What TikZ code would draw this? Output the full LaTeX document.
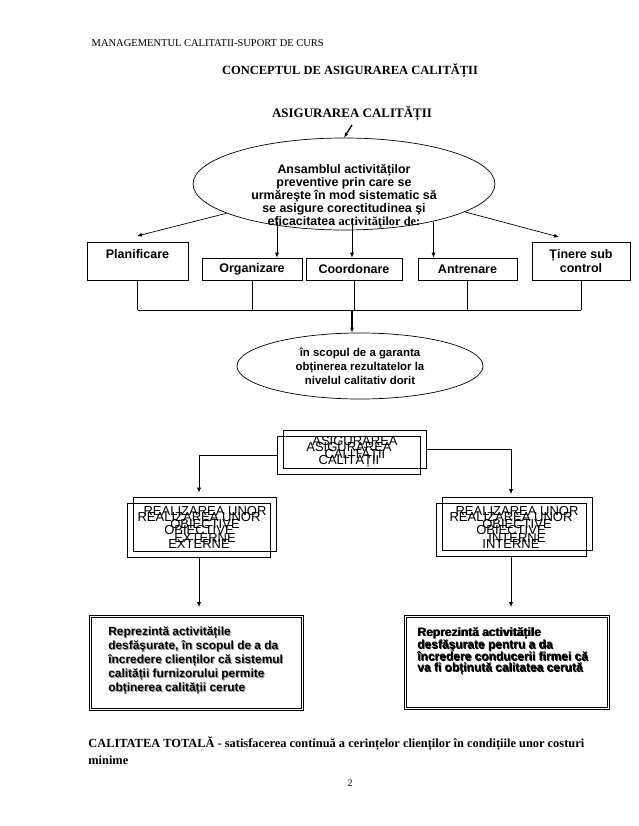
\documentclass[tikz,border=0pt]{standalone}
\usepackage{fontspec}
\setmainfont{Liberation Serif}
\setsansfont{Liberation Sans}
\usetikzlibrary{shapes.geometric,arrows.meta,calc}

\tikzset{
  arr/.style={-{Latex[length=5pt,width=4pt]}},
  sbox/.style={draw, inner sep=0pt, align=center, font=\sffamily\bfseries\fontsize{12.5}{14}\selectfont},
  twin/.style={draw, inner sep=0pt, align=center, font=\sffamily\fontsize{13}{13.5}\selectfont},
  shbox/.style={draw, double, double distance=1.3pt, inner sep=0pt},
  shtext/.style={inner sep=0pt, align=left, font=\sffamily\bfseries\fontsize{11.9}{14}\selectfont},
}

\begin{document}
\begin{tikzpicture}[x=1pt, y=-1pt, line width=0.7pt]
\useasboundingbox (0,0) rectangle (638,826);

% Page header
\node[anchor=west, font=\fontsize{10.5}{12}\selectfont] (head) at (88,43) {MANAGEMENTUL CALITATII-SUPORT DE CURS};
\node[font=\bfseries\fontsize{12.5}{14}\selectfont] (title) at (350,71) {CONCEPTUL DE ASIGURAREA CALITĂȚII};
\node[font=\bfseries\fontsize{13}{14}\selectfont] (aq) at (352,114) {ASIGURAREA CALITĂȚII};

% Ellipse
\node[draw, ellipse, minimum width=302pt, minimum height=92pt, inner sep=0pt] (ell) at (344,184) {};
\node[align=center, inner sep=0pt, font=\sffamily\bfseries\fontsize{12.4}{13}\selectfont] (elltext) at (344,196) {Ansamblul activităților\\ preventive prin care se\\ urmăreşte în mod sistematic să\\ se asigure corectitudinea şi\\ eficacitatea \rmfamily activităţilor de:};
\draw[arr, line width=1.3pt] (aq.south) -- (ell.north);

% Activities
\node[sbox, minimum width=101pt, minimum height=38pt] (plan) at (137.5,261) {Planificare\\ \mbox{}};
\node[sbox, minimum width=100pt, minimum height=22pt] (org) at (252,269) {Organizare};
\node[sbox, minimum width=96pt, minimum height=22pt] (coord) at (354,269) {Coordonare};
\node[sbox, minimum width=99pt, minimum height=22pt] (antr) at (467.5,269) {Antrenare};
\node[sbox, minimum width=98pt, minimum height=38pt] (tin) at (581,261) {Ținere sub\\ control};

% Arrows from the ellipse
\coordinate (plantip) at (137,236);
\coordinate (tintip) at (559,237);
\draw[arr] (ell.194) -- (plantip);
\draw[arr] (ell.347) -- (tintip);
\draw[arr] ($(org.north)+(25,-36)$) -- ($(org.north)+(25,0)$);
\draw[arr] ($(coord.north)+(-2,-38)$) -- ($(coord.north)+(-2,0)$);
\draw[arr] ($(antr.north)+(-34,-36)$) -- ($(antr.north)+(-34,0)$);

% Goal
\node[draw, ellipse, minimum width=246pt, minimum height=66pt, inner sep=0pt, align=center, font=\sffamily\bfseries\fontsize{11.4}{13.8}\selectfont] (goal) at (360,366) {în scopul de a garanta\\ obținerea rezultatelor la\\ nivelul calitativ dorit};

% Bus
\coordinate (bus) at (352,310);
\foreach \n in {plan,org,coord,antr,tin}
  \draw (\n.south) -- (\n.south |- bus);
\draw (plan.south |- bus) -- (tin.south |- bus);
\draw[arr, line width=1.3pt] (bus) -- (bus |- goal.north);

% Second chart
\node[twin, minimum width=143pt, minimum height=38pt] (asigA) at (355,449) {ASIGURAREA\\ CALITĂȚII};
\node[twin, minimum width=143pt, minimum height=38pt] (asigB) at (349,455) {ASIGURAREA\\ CALITĂȚII};

\node[twin, minimum width=143pt, minimum height=54pt] (extA) at (205,524) {REALIZAREA UNOR\\ OBIECTIVE\\ EXTERNE};
\node[twin, minimum width=143pt, minimum height=54pt] (extB) at (199,530) {REALIZAREA UNOR\\ OBIECTIVE\\ EXTERNE};
\node[twin, minimum width=150pt, minimum height=53pt] (intA) at (517,524) {REALIZAREA UNOR\\ OBIECTIVE\\ INTERNE};
\node[twin, minimum width=150pt, minimum height=53pt] (intB) at (511,530) {REALIZAREA UNOR\\ OBIECTIVE\\ INTERNE};

\draw[arr, shorten >=10pt] (asigB.west) -| (extB.north);
\draw[arr, shorten >=9pt] (asigA.east) -| (intB.north);

% Descriptions
\node[shbox, minimum width=212pt, minimum height=93pt] (extbox) at (196.5,663) {};
\node[shbox, minimum width=203pt, minimum height=92pt] (intbox) at (507,662.5) {};
\draw[arr, shorten >=9pt] (extB.south) -- (extB.south |- extbox.north);
\draw[arr, shorten >=9pt] (intB.south) -- (intB.south |- intbox.north);

\node[shtext, text=black!40, anchor=north west] (extshadow) at (109,627) {Reprezintă activitățile\\ desfăşurate, în scopul de a da\\ încredere clienților că sistemul\\ calității furnizorului permite\\ obținerea calității cerute};
\node[shtext, anchor=north west] (exttext) at (108,626) {Reprezintă activitățile\\ desfăşurate, în scopul de a da\\ încredere clienților că sistemul\\ calității furnizorului permite\\ obținerea calității cerute};
\node[shtext, anchor=north west, font=\sffamily\bfseries\fontsize{12}{11.5}\selectfont] (intshadow) at (417.8,627.8) {Reprezintă activitățile\\ desfăşurate pentru a da\\ încredere conducerii firmei că\\ va fi obținută calitatea cerută};
\node[shtext, anchor=north west, font=\sffamily\bfseries\fontsize{12}{11.5}\selectfont] (inttext) at (417,627) {Reprezintă activitățile\\ desfăşurate pentru a da\\ încredere conducerii firmei că\\ va fi obținută calitatea cerută};

% Footer
\node[anchor=north west, align=left, inner sep=0pt, font=\bfseries\fontsize{12.4}{17}\selectfont] (total) at (88,736) {CALITATEA TOTALĂ - satisfacerea continuă a cerințelor clienților în condițiile unor costuri\\ minime};
\node[font=\fontsize{10}{12}\selectfont] (pageno) at (350,783) {2};
\end{tikzpicture}
\end{document}
